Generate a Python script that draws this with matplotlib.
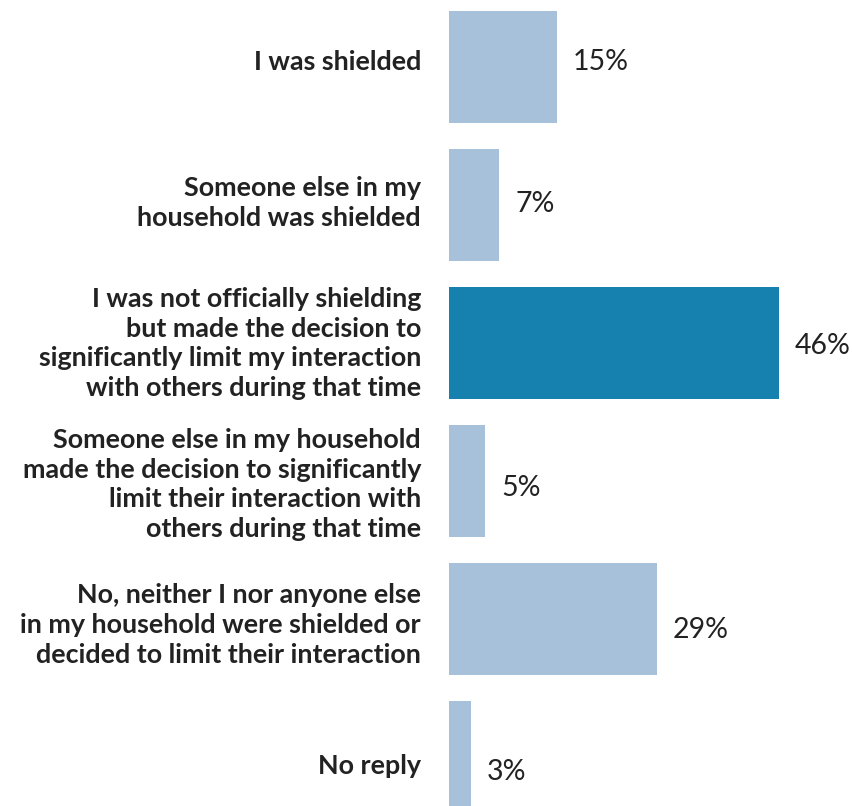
import matplotlib
matplotlib.use("Agg")
import matplotlib.pyplot as plt

categories = [
    "I was shielded",
    "Someone else in my\nhousehold was shielded",
    "I was not officially shielding\nbut made the decision to\nsignificantly limit my interaction\nwith others during that time",
    "Someone else in my household\nmade the decision to significantly\nlimit their interaction with\nothers during that time",
    "No, neither I nor anyone else\nin my household were shielded or\ndecided to limit their interaction",
    "No reply",
]
values = [15, 7, 46, 5, 29, 3]
highlight = 2

light = "#a7c1db"
dark = "#1680ae"
text_col = "#222222"

plt.rcParams["font.family"] = ["Lato", "DejaVu Sans"]

W, H = 852, 806
fig = plt.figure(figsize=(W / 100, H / 100), dpi=100)
# axes spans from the bar baseline to the right edge, full height
ax = fig.add_axes([449 / W, 0, 1 - 449 / W, 1])

px_per_unit = 7.17      # horizontal pixels per percent
pitch = 138             # vertical pixels per bar row
ax.set_xlim(0, (W - 449) / px_per_unit)
ax.set_ylim((H - 67) / pitch, -67 / pitch)

ys = list(range(len(values)))
colors = [dark if i == highlight else light for i in ys]
ax.barh(ys, values, height=112 / pitch, color=colors, linewidth=0)

for i, (cat, v) in enumerate(zip(categories, values)):
    # value labels sit on a slightly wider row pitch than the bars
    vy = (i * 142 - 5) / pitch
    ax.text(v + 16 / px_per_unit, vy, f"{v}%", ha="left", va="center",
            fontsize=20.5, color=text_col)
    cy = (i * 140.8 - 5) / pitch
    ax.text(-28 / px_per_unit, cy, cat, ha="right", va="center",
            fontsize=19.4, fontweight="bold", color=text_col,
            linespacing=1.29, clip_on=False)

ax.axis("off")
fig.savefig("out.png", dpi=100)
